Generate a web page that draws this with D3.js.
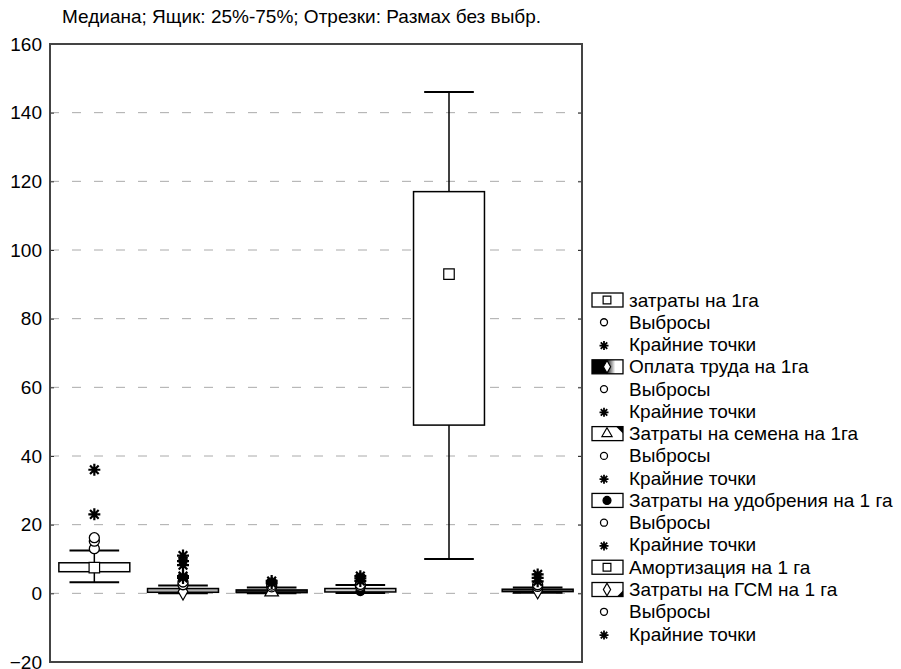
<!DOCTYPE html>
<html><head><meta charset="utf-8">
<script src="https://cdn.jsdelivr.net/npm/d3@7/dist/d3.min.js"></script>
<style>body{margin:0;background:#fff}text{font-family:"Liberation Sans",Arial,sans-serif}</style>
</head><body><svg id="c" width="901" height="669"></svg>
<script>
const categories = ["затраты на 1га","Оплата труда на 1га","Затраты на семена на 1га","Затраты на удобрения на 1 га","Амортизация на 1 га","Затраты на ГСМ на 1 га"];
const medians = [7.5, 0.5, 0.4, 0.6, 93, 0.8];
const q1 = [6.3, 0.3, 0.2, 0.4, 49, 0.5];
const q3 = [8.9, 1.4, 1.0, 1.4, 117, 1.2];
const whiskerLow = [3.2, 0.0, 0.0, 0.1, 10, 0.2];
const whiskerHigh = [12.5, 2.3, 1.7, 2.4, 146, 1.7];
const outliers = [[13.0, 15.2, 16.2], [2.5, 3.3], [1.9, 2.4], [2.1, 2.6], [], [2.0, 2.5]];
const extremes = [[23, 36], [4.5, 5.0, 8.2, 9.4, 11.0], [3.0, 3.6], [3.6, 4.4, 5.0], [], [3.5, 4.5, 5.5]];
const yTicks = [-20, 0, 20, 40, 60, 80, 100, 120, 140, 160];
const medianSymbols = ["square", "diamond", "triangle", "circle", "square", "diamond"];
const boxFills = ["#fff", "#b0b0b0", "#222", "#cfcfcf", "#fff", "#555"];
const title = "Медиана; Ящик: 25%-75%; Отрезки: Размах без выбр.";
const legendRows = [
  {t:"затраты на 1га", k:"box", s:"square", style:"plain"},
  {t:"Выбросы", k:"out"},
  {t:"Крайние точки", k:"ext"},
  {t:"Оплата труда на 1га", k:"box", s:"diamond", style:"grad"},
  {t:"Выбросы", k:"out"},
  {t:"Крайние точки", k:"ext"},
  {t:"Затраты на семена на 1га", k:"box", s:"triangle", style:"tr"},
  {t:"Выбросы", k:"out"},
  {t:"Крайние точки", k:"ext"},
  {t:"Затраты на удобрения на 1 га", k:"box", s:"circle", style:"plain"},
  {t:"Выбросы", k:"out"},
  {t:"Крайние точки", k:"ext"},
  {t:"Амортизация на 1 га", k:"box", s:"square", style:"plain"},
  {t:"Затраты на ГСМ на 1 га", k:"box", s:"diamond", style:"br"},
  {t:"Выбросы", k:"out"},
  {t:"Крайние точки", k:"ext"}
];

const svg = d3.select("#c");
const L = 50, R = 582, T = 44, B = 662;
const FS = 19;
const y = d3.scaleLinear().domain([-20, 160]).range([B, T]);
const x = d3.scaleBand().domain(categories).range([L, R]).paddingInner(0.2).paddingOuter(0.1);

const defs = svg.append("defs");
const g1 = defs.append("linearGradient").attr("id","gr").attr("x1","0").attr("x2","1").attr("y1","0").attr("y2","0");
g1.append("stop").attr("offset","0").attr("stop-color","#000");
g1.append("stop").attr("offset","0.45").attr("stop-color","#000");
g1.append("stop").attr("offset","0.75").attr("stop-color","#fff");

// title
svg.append("text").attr("x", 62).attr("y", 23).attr("font-size", FS).attr("fill","#000").text(title);

// gridlines
svg.append("g").selectAll("line").data(yTicks.filter(v => v > -20 && v < 160)).join("line")
  .attr("x1", L).attr("x2", R).attr("y1", d => y(d)).attr("y2", d => y(d))
  .attr("stroke", "#aaa").attr("stroke-width", 1).attr("stroke-dasharray", "9,13");

// axis
const ax = svg.append("g").attr("transform", `translate(${L},0)`)
  .call(d3.axisLeft(y).tickValues(yTicks).tickSize(-4).tickPadding(8).tickFormat(d3.format("d")));
ax.select(".domain").remove();
ax.selectAll("line").attr("stroke","#333").attr("stroke-width",1);
ax.selectAll("text").attr("font-size", FS).attr("fill","#000").attr("font-family","Liberation Sans, Arial, sans-serif");
const axR = svg.append("g").attr("transform", `translate(${R},0)`)
  .call(d3.axisRight(y).tickValues(yTicks).tickSize(-4).tickFormat(""));
axR.select(".domain").remove();
axR.selectAll("line").attr("stroke","#333");

// frame
svg.append("rect").attr("x", L).attr("y", T).attr("width", R - L).attr("height", B - T)
  .attr("fill","none").attr("stroke","#444").attr("stroke-width", 2);

const symMap = {square:d3.symbolSquare, diamond:d3.symbolDiamond, triangle:d3.symbolTriangle, circle:d3.symbolCircle};
function star(r){ const d=r*0.72; return `M0,${-r}V${r}M${-r},0H${r}M${-d},${-d}L${d},${d}M${-d},${d}L${d},${-d}`; }

const bw = x.bandwidth();
const capW = bw * 0.7;
const boxes = svg.append("g").selectAll("g").data(categories).join("g")
  .attr("transform", d => `translate(${x(d) + bw/2},0)`);

boxes.each(function(c, i){
  const g = d3.select(this);
  g.append("line").attr("x1",0).attr("x2",0).attr("y1", y(whiskerHigh[i])).attr("y2", y(q3[i])).attr("stroke","#000").attr("stroke-width",1.5);
  g.append("line").attr("x1",0).attr("x2",0).attr("y1", y(q1[i])).attr("y2", y(whiskerLow[i])).attr("stroke","#000").attr("stroke-width",1.5);
  g.append("line").attr("x1",-capW/2).attr("x2",capW/2).attr("y1", y(whiskerHigh[i])).attr("y2", y(whiskerHigh[i])).attr("stroke","#000").attr("stroke-width",2);
  g.append("line").attr("x1",-capW/2).attr("x2",capW/2).attr("y1", y(whiskerLow[i])).attr("y2", y(whiskerLow[i])).attr("stroke","#000").attr("stroke-width",2);
  g.append("rect").attr("x",-bw/2).attr("width",bw).attr("y", y(q3[i])).attr("height", Math.max(1, y(q1[i]) - y(q3[i])))
    .attr("fill", boxFills[i]).attr("stroke","#000").attr("stroke-width",1.5);
  const s = medianSymbols[i];
  const size = s === "square" ? 110 : s === "circle" ? 60 : 80;
  g.append("path").attr("transform", `translate(0,${y(medians[i])})`)
    .attr("d", d3.symbol(symMap[s], size)())
    .attr("fill", s === "circle" ? "#000" : "#fff").attr("stroke","#000").attr("stroke-width",1.2);
  g.selectAll(".o").data(outliers[i]).join("circle").attr("class","o")
    .attr("cx",0).attr("cy", d => y(d)).attr("r",5).attr("fill","#fff").attr("stroke","#000").attr("stroke-width",1.3);
  g.selectAll(".e").data(extremes[i]).join("path").attr("class","e")
    .attr("transform", d => `translate(0,${y(d)})`).attr("d", star(6)).attr("stroke","#000").attr("stroke-width",2.2).attr("fill","none");
});

// legend
const lx = 592, ly0 = 300, ldy = 22.27;
const lg = svg.append("g").selectAll("g").data(legendRows).join("g")
  .attr("transform", (d, i) => `translate(${lx},${ly0 + i * ldy})`);
lg.append("text").attr("x", 37).attr("y", 6.5).attr("font-size", FS).attr("fill","#000").text(d => d.t);
lg.each(function(d){
  const g = d3.select(this);
  if (d.k === "out") {
    g.append("circle").attr("cx", 12).attr("cy", 0).attr("r", 3.5).attr("fill","#fff").attr("stroke","#000").attr("stroke-width",1.3);
  } else if (d.k === "ext") {
    g.append("path").attr("transform","translate(12,1)").attr("d", star(4.5)).attr("stroke","#000").attr("stroke-width",1.8).attr("fill","none");
  } else {
    g.append("rect").attr("x",0).attr("y",-7).attr("width",31).attr("height",14)
      .attr("fill", d.style === "grad" ? "url(#gr)" : "#fff").attr("stroke","#000").attr("stroke-width",1.3);
    if (d.style === "tr") g.append("path").attr("d","M24,-7H31V0Z").attr("fill","#000");
    if (d.style === "br") g.append("path").attr("d","M31,1V7H25Z").attr("fill","#000");
    const sz = d.s === "square" ? 60 : d.s === "circle" ? 50 : 45;
    g.append("path").attr("transform","translate(15,0)").attr("d", d3.symbol(symMap[d.s], sz)())
      .attr("fill", d.s === "circle" ? "#000" : "#fff").attr("stroke","#000").attr("stroke-width",1.2);
  }
});
</script></body></html>
